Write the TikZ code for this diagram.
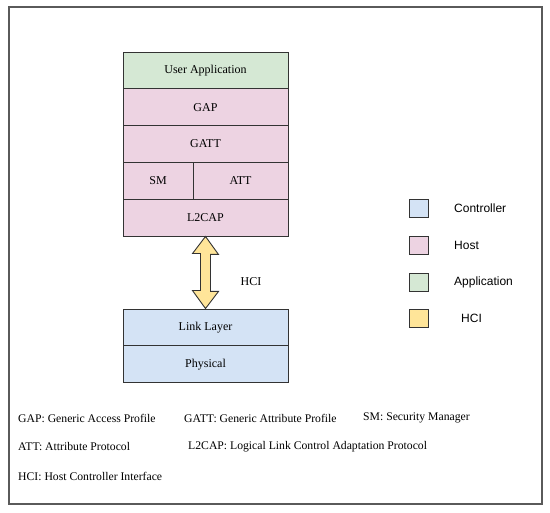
\documentclass[tikz,border=0pt]{standalone}
\usepackage{fontspec}
\setmainfont{Liberation Serif}
\newfontfamily\legendfont{Liberation Sans}
\definecolor{appgreen}{HTML}{D5E8D4}
\definecolor{hostpink}{HTML}{EDD3E2}
\definecolor{ctrlblue}{HTML}{D4E3F5}
\definecolor{hciyellow}{HTML}{FFE599}
\definecolor{framegray}{HTML}{5A5A5A}
\definecolor{edgegray}{HTML}{333333}
\begin{document}
\begin{tikzpicture}[x=1pt,y=1pt,
  layer/.style={draw=edgegray, line width=0.9pt, inner sep=0pt, minimum height=36.8pt, font=\fontsize{12}{14}\selectfont},
  legbox/.style={draw=edgegray, line width=0.9pt, minimum width=19pt, minimum height=18pt, inner sep=0pt},
  leglabel/.style={anchor=west, inner sep=0pt, font=\legendfont\fontsize{12}{14}\selectfont},
  note/.style={anchor=west, inner sep=0pt, font=\fontsize{11.7}{14}\selectfont}]
\useasboundingbox (0,0) rectangle (550,-513);
\draw[framegray, line width=1.6pt] (9,-7) rectangle (542,-504);
% host stack
\node[layer, fill=appgreen, minimum width=165pt] (app) at (205.5,-70.4) {User Application};
\node[layer, fill=hostpink, minimum width=165pt] (gap) at (205.5,-107.2) {GAP};
\node[layer, fill=hostpink, minimum width=165pt] (gatt) at (205.5,-144) {GATT};
\node[layer, fill=hostpink, minimum width=70pt] (sm) at (158,-180.8) {SM};
\node[layer, fill=hostpink, minimum width=95pt] (att) at (240.5,-180.8) {ATT};
\node[layer, fill=hostpink, minimum width=165pt] (l2cap) at (205.5,-217.6) {L2CAP};
% controller
\node[layer, fill=ctrlblue, minimum width=165pt] (ll) at (205.5,-327.4) {Link Layer};
\node[layer, fill=ctrlblue, minimum width=165pt] (phy) at (205.5,-364.2) {Physical};
% HCI arrow
\draw[draw=edgegray, line width=0.9pt, fill=hciyellow, line join=miter]
  (l2cap.south) -- ++(13,-18) -- ++(-8,0) -- ++(0,-37) -- ++(8,0) -- (ll.north)
  -- ++(-13,18) -- ++(8,0) -- ++(0,37) -- ++(-8,0) -- cycle;
\node[font=\fontsize{12}{14}\selectfont, inner sep=0pt] (hcilbl) at (251,-282) {HCI};
% legend
\node[legbox, fill=ctrlblue] (lc) at (418.5,-208) {};
\node[leglabel] (lct) at (454,-208) {Controller};
\node[legbox, fill=hostpink] (lh) at (418.5,-245) {};
\node[leglabel] (lht) at (454,-245) {Host};
\node[legbox, fill=appgreen] (la) at (418.5,-282) {};
\node[leglabel] (lat) at (454,-282) {Application};
\node[legbox, fill=hciyellow] (lhc) at (418.5,-318) {};
\node[leglabel] (lhct) at (461,-318) {HCI};
% notes
\node[note] (n1) at (18,-418) {GAP: Generic Access Profile};
\node[note] (n2) at (184,-418) {GATT: Generic Attribute Profile};
\node[note] (n3) at (363,-418) {SM: Security Manager};
\node[note] (n4) at (18,-447) {ATT: Attribute Protocol};
\node[note] (n5) at (188,-447) {L2CAP: Logical Link Control Adaptation Protocol};
\node[note] (n6) at (18,-476) {HCI: Host Controller Interface};
\end{tikzpicture}
\end{document}
